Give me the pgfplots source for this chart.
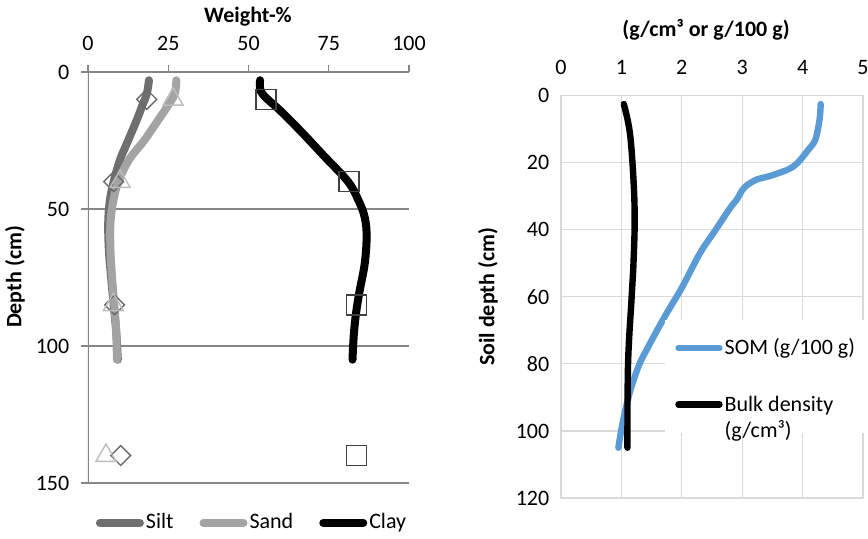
\documentclass[border=0pt]{standalone}
\usepackage{fontspec}
\setmainfont{Carlito}
\usepackage{pgfplots}
\pgfplotsset{compat=1.18}
\definecolor{axgray}{HTML}{868686}
\definecolor{gridlt}{HTML}{D9D9D9}
\definecolor{siltc}{HTML}{6F6F6F}
\definecolor{sandc}{HTML}{A3A3A3}
\definecolor{siltm}{HTML}{6A6A6A}
\definecolor{sandm}{HTML}{BDBDBD}
\definecolor{claym}{HTML}{404040}
\definecolor{somc}{HTML}{5B9BD5}
\begin{document}
\fontsize{11}{13}\selectfont
\begin{tikzpicture}[x=1pt,y=1pt]
\useasboundingbox (0,0) rectangle (434,269.5);
% ---------------- left chart ----------------
\begin{axis}[
  at={(44pt,28pt)}, anchor=south west, scale only axis,
  width=160.5pt, height=205.5pt,
  xmin=0, xmax=100, ymin=0, ymax=150, y dir=reverse,
  axis line style={draw=none},
  xticklabel pos=upper, yticklabel pos=left,
  xtick pos=upper, ytick pos=left,
  xtick={0,25,50,75,100}, ytick={0,50,100,150},
  tick align=outside, major tick length=3.5pt,
  tick style={draw=axgray, line width=0.6pt},
  ymajorgrids, grid style={draw=axgray, line width=0.6pt},
  /pgf/number format/assume math mode=true,
  ticklabel style={font=\fontsize{11}{13}\selectfont},
  xticklabel style={yshift=3.5pt},
  yticklabel style={xshift=-2pt},
  legend columns=3,
  legend style={draw=none, fill=none, at={(0.511,-0.097)}, anchor=center,
    font=\fontsize{11}{13}\selectfont,
    nodes={inner xsep=1pt},
    /tikz/every even column/.append style={column sep=12pt}},
  legend image code/.code={\draw[#1, line cap=round] (0pt,0pt) -- (20pt,0pt);},
]
\draw[axgray, line width=0.6pt] (axis cs:0,0) -- (axis cs:0,150);
\addplot[siltc, line width=4pt, line cap=round, smooth, tension=0.6] coordinates {
 (19,3) (18.3,8) (17,12) (15.2,17.5) (12.5,25) (10,32) (8,40) (6.8,47) (6.3,55) (6.5,65) (7.2,75) (8,85) (8.8,95) (9.3,105)};
\addlegendentry{Silt}
\addplot[sandc, line width=4pt, line cap=round, smooth, tension=0.6] coordinates {
 (27.5,3) (27,8) (24.5,13) (21.9,17.5) (17.5,25) (12.8,32) (9.5,40) (7.9,47) (7,55) (7,65) (7.5,75) (8.2,85) (8.8,95) (9,105)};
\addlegendentry{Sand}
\addplot[black, line width=4pt, line cap=round, smooth, tension=0.6] coordinates {
 (53.6,3) (53.8,7) (56,10) (59.8,14) (66.6,22) (73.8,31) (81,40) (84.2,46.7) (86.2,53) (86.8,60) (86.2,70) (84.6,80) (83.5,88) (82.8,96) (82.4,105)};
\addlegendentry{Clay}
\addplot[only marks, forget plot, mark=square, mark size=3.5pt, mark options={rotate=45, draw=siltm, fill=none, line width=0.7pt}] coordinates {
 (18.3,10) (8,40) (8.3,85) (10.2,140)};
\addplot[only marks, forget plot, mark=triangle, mark size=5.8pt, mark options={draw=sandm, fill=none, line width=0.7pt}] coordinates {
 (26.5,10) (10,40) (7.9,85) (5.6,140)};
\addplot[only marks, forget plot, mark=square, mark size=5pt, mark options={draw=claym, fill=none, line width=0.7pt}] coordinates {
 (55.5,10) (81.3,40) (83.7,85) (83.7,140)};
\end{axis}
\node[font=\fontsize{11}{13}\selectfont\bfseries] at (124,261) {Weight-\%};
\node[font=\fontsize{11}{13}\selectfont\bfseries, rotate=90] at (7.5,131) {Depth (cm)};
% ---------------- right chart ----------------
\begin{axis}[
  at={(280.5pt,20.5pt)}, anchor=south west, scale only axis,
  width=151pt, height=201.15pt,
  xmin=0, xmax=5, ymin=0, ymax=120, y dir=reverse,
  xtick={0,1,2,3,4,5}, ytick={0,20,40,60,80,100,120},
  axis line style={draw=gridlt, line width=0.6pt},
  major tick length=0pt,
  xmajorgrids, ymajorgrids, grid style={draw=gridlt, line width=0.6pt},
  xticklabel pos=upper,
  /pgf/number format/assume math mode=true,
  ticklabel style={font=\fontsize{11}{13}\selectfont},
  xticklabel style={yshift=6.5pt},
  yticklabel style={xshift=-2pt},
  legend cell align=left,
  legend style={draw=none, fill=white, at={(0.344,0.4425)}, anchor=north west,
    font=\fontsize{11}{13}\selectfont, inner xsep=5pt, inner ysep=7pt,
    nodes={inner xsep=1pt},
    row sep=14pt},
  legend image code/.code={\draw[#1, line cap=round] (0pt,0pt) -- (20.5pt,0pt);},
]
\addplot[somc, line width=3.2pt, line cap=round, smooth, tension=0.5] coordinates {
 (4.3,2.5) (4.28,7.3) (4.21,13.2) (4.1,16) (3.92,20) (3.76,22) (3.45,24) (3.24,25) (3.08,26.7) (3.0,28.2) (2.91,31) (2.8,33.5) (2.56,40) (2.30,47) (2.0,57.3) (1.72,65.8) (1.45,74.7) (1.30,80) (1.17,86.6) (1.08,92.6) (1.0,99.5) (0.95,105)};
\addlegendentry{SOM (g/100 g)}
\addplot[black, line width=3.2pt, line cap=round, smooth, tension=0.6] coordinates {
 (1.04,2.5) (1.14,11) (1.20,25) (1.22,37) (1.20,50) (1.17,60) (1.11,80) (1.10,105)};
\addlegendentry{\begin{tabular}[t]{@{}l@{}}Bulk density\\(g/cm³)\end{tabular}}
\end{axis}
\node[font=\fontsize{11}{13}\selectfont\bfseries] at (353,254.5) {(g/cm³ or g/100 g)};
\node[font=\fontsize{11}{13}\selectfont\bfseries, rotate=90] at (244,121) {Soil depth (cm)};
\end{tikzpicture}
\end{document}
